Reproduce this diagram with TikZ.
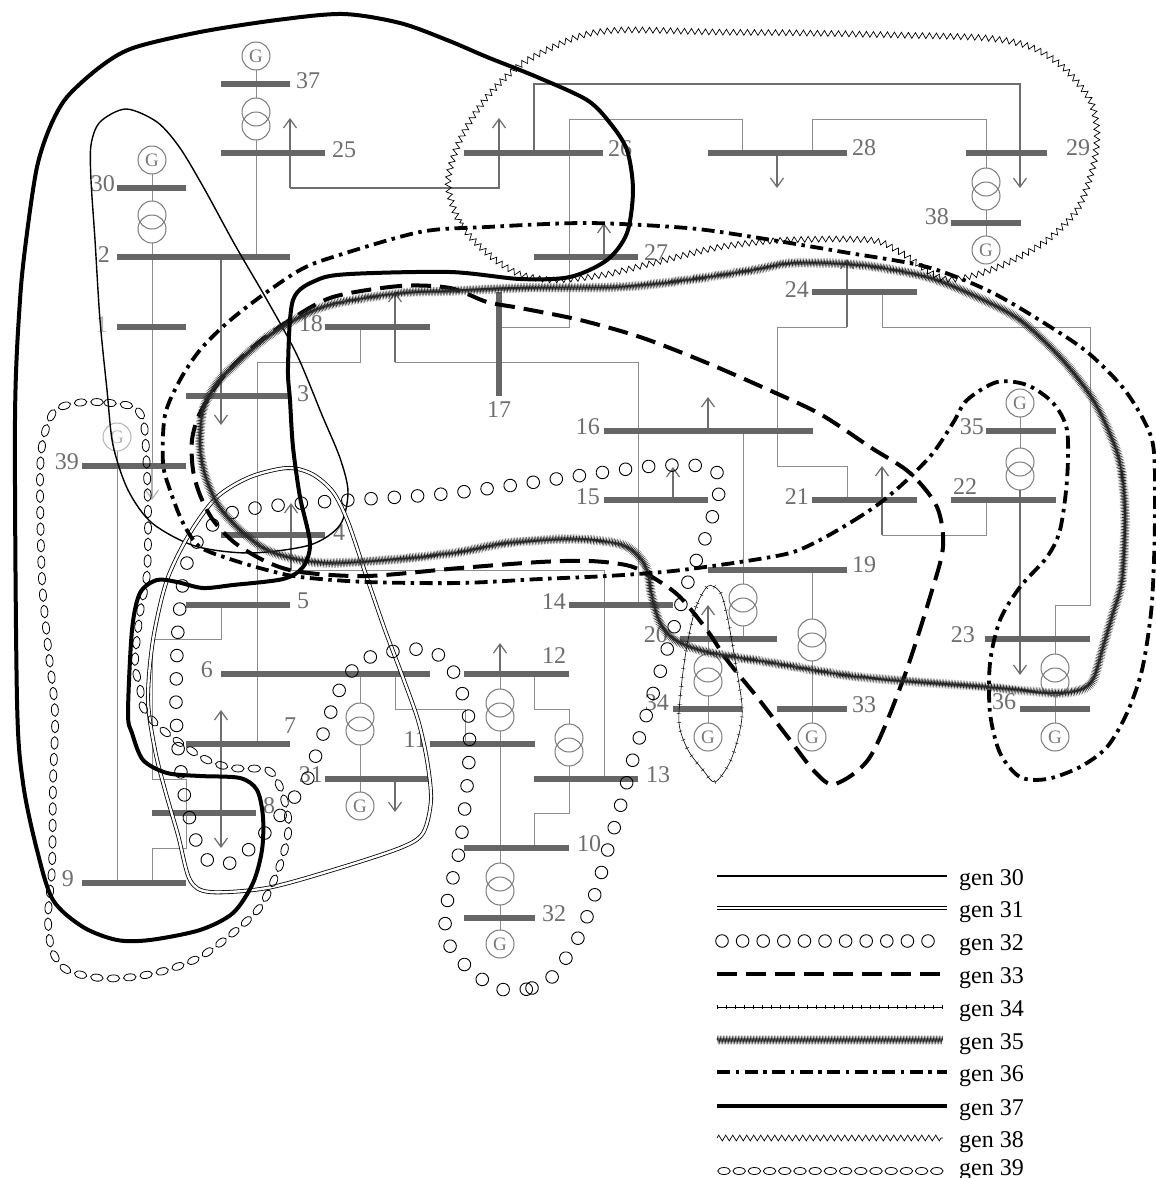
\documentclass[tikz,border=0pt]{standalone}
\usepackage{fontspec}
\setmainfont{Liberation Serif}
\usetikzlibrary{arrows.meta,decorations.markings,decorations.pathmorphing,decorations.pathreplacing}
\definecolor{busc}{HTML}{666666}
\definecolor{wirec}{HTML}{8C8C8C}
\definecolor{arrc}{HTML}{6E6E6E}
\definecolor{xfc}{HTML}{7A7A7A}
\definecolor{lblc}{HTML}{6E6E6E}
\definecolor{faint}{HTML}{B4B4B4}
\newcommand{\mkxf}[2]{\draw[xf] (#1,#2) circle[radius=14pt] (#1,#2+14) circle[radius=14pt];}
\tikzset{
 bus/.style={draw=busc, line width=6pt},
 wire/.style={draw=wirec, line width=1pt},
 load/.style={draw=arrc, line width=1.2pt, -{Straight Barb[length=9pt,width=13pt]}},
 dload/.style={draw=arrc, line width=1.2pt, {Straight Barb[length=9pt,width=13pt]}-{Straight Barb[length=9pt,width=13pt]}},
 xf/.style={draw=xfc, line width=1pt},
 gnode/.style={circle, draw=xfc, line width=1pt, minimum size=28pt, inner sep=0pt, text=xfc, font=\fontsize{19}{19}\selectfont},
 lbl/.style={inner sep=0pt, text=lblc, font=\fontsize{24}{24}\selectfont},
 leg/.style={inner sep=0pt, text=black, font=\fontsize{24}{24}\selectfont, anchor=base west},
 g30/.style={draw=black, line width=1.4pt},
 g31/.style={draw=black, double=white, double distance=2.4pt, line width=0.8pt},
 g32/.style={postaction={decorate}, decoration={markings, mark=between positions 0 and 1 step 23.3pt with {\draw[black,line width=0.9pt] (0,0) circle[radius=6.3pt];}}},
 g33/.style={draw=black, line width=4pt, dash pattern=on 20pt off 9pt},
 g34/.style={draw=black, line width=0.6pt, postaction={draw=black, line width=0.4pt, decorate, decoration={ticks, segment length=9pt, amplitude=2pt}}},
 g35/.style={draw=black!85, line width=0.6pt, decorate, decoration={zigzag, segment length=1.5pt, amplitude=2.7pt}},
 g36/.style={draw=black, line width=3.8pt, dash pattern=on 13pt off 5.5pt on 3.5pt off 5.5pt},
 g37/.style={draw=black, line width=4pt},
 g38/.style={draw=black, line width=0.7pt, decorate, decoration={zigzag, segment length=7pt, amplitude=2.9pt}},
 g39/.style={postaction={decorate}, decoration={markings, mark=between positions 0 and 1 step 16.5pt with {\draw[black,line width=0.8pt] (0,0) ellipse[x radius=6.3pt, y radius=3.5pt];}}}
}
\begin{document}
\begin{tikzpicture}[x=1pt,y=-1pt]
\useasboundingbox (0,0) rectangle (1156,1178);
\fill[white] (0,0) rectangle (1156,1178);

% ---------- wires ----------
\draw[wire] (256,70) -- (256,98);
\draw[wire] (256,140) -- (256,257);
\draw[load] (290,188) -- (290,118);
\draw[load] (290,188) -- (499,188) -- (499,118);
\draw[wire] (152,174) -- (152,201);
\draw[wire] (152,243) -- (152,466);
\draw[load, draw=faint] (152,466) -- (152,500);
\draw[load] (221,257) -- (221,425);
\draw[wire] (360,327) -- (360,362) -- (257,362) -- (257,744);
\draw[load] (395,362) -- (395,292);
\draw[wire] (395,362) -- (638,362) -- (638,605);
\draw[wire] (499,327) -- (569,327) -- (569,119) -- (742,119) -- (742,153);
\draw[load] (534,153) -- (534,84) -- (1020,84) -- (1020,188);
\draw[load] (604,257) -- (604,223);
\draw[wire] (812,153) -- (812,119) -- (986,119) -- (986,168);
\draw[wire] (986,210) -- (986,236);
\draw[load] (777,153) -- (777,188);
\draw[load] (847,327) -- (847,259);
\draw[wire] (847,327) -- (777,327) -- (777,466) -- (847,466) -- (847,500);
\draw[wire] (882,292) -- (882,327) -- (1090,327) -- (1090,605) -- (1055,605) -- (1055,654);
\draw[wire] (1055,696) -- (1055,723);
\draw[wire] (743,431) -- (743,584);
\draw[wire] (743,626) -- (743,639);
\draw[load] (708,431) -- (708,397);
\draw[load] (673,500) -- (673,467);
\draw[load] (882,535) -- (882,466);
\draw[wire] (882,535) -- (986,535) -- (986,500);
\draw[wire] (1020,417) -- (1020,448);
\draw[load] (1020,490) -- (1020,675);
\draw[wire] (812,570) -- (812,619);
\draw[wire] (812,661) -- (812,723);
\draw[load] (708,639) -- (708,605);
\draw[wire] (708,639) -- (708,654);
\draw[wire] (708,696) -- (708,723);
\draw[load] (291,570) -- (291,503);
\draw[wire] (291,570) -- (604,570) -- (604,779);
\draw[wire] (221,605) -- (221,639) -- (152,639) -- (152,779) -- (186,779) -- (186,848) -- (152,848) -- (152,883);
\draw[wire] (117,451) -- (117,883);
\draw[wire] (360,674) -- (360,703);
\draw[wire] (360,745) -- (360,792);
\draw[load] (395,779) -- (395,812);
\draw[wire] (395,674) -- (395,709) -- (465,709) -- (465,744);
\draw[load] (500,674) -- (500,643);
\draw[wire] (500,674) -- (500,689);
\draw[wire] (500,731) -- (500,863);
\draw[wire] (500,905) -- (500,930);
\draw[wire] (534,674) -- (534,709) -- (569,709) -- (569,724);
\draw[wire] (569,766) -- (569,813) -- (534,813) -- (534,848);
\draw[dload] (221,710) -- (221,848);

% ---------- transformers ----------
\mkxf{256}{112}
\mkxf{152}{215}
\mkxf{986}{182}
\mkxf{1020}{462}
\mkxf{1055}{668}
\mkxf{743}{598}
\mkxf{812}{633}
\mkxf{708}{668}
\mkxf{360}{717}
\mkxf{500}{703}
\mkxf{500}{877}
\mkxf{569}{738}

% ---------- generators ----------
\node[gnode] (G37) at (256,56) {G};
\node[gnode] (G30) at (152,160) {G};
\node[gnode, draw=faint, text=faint] (G39) at (117,437) {G};
\node[gnode] (G38) at (986,250) {G};
\node[gnode] (G35) at (1020,403) {G};
\node[gnode] (G36) at (1055,737) {G};
\node[gnode] (G33) at (812,737) {G};
\node[gnode] (G34) at (708,737) {G};
\node[gnode] (G31) at (360,806) {G};
\node[gnode] (G32) at (500,944) {G};

% ---------- buses ----------
\draw[bus] (221,84) -- (290,84);
\draw[bus] (221,153) -- (325,153);
\draw[bus] (117,188) -- (186,188);
\draw[bus] (117,257) -- (290,257);
\draw[bus] (117,327) -- (186,327);
\draw[bus] (325,327) -- (430,327);
\draw[bus] (186,396) -- (290,396);
\draw[bus] (82,466) -- (186,466);
\draw[bus] (221,535) -- (325,535);
\draw[bus] (186,605) -- (290,605);
\draw[bus] (221,674) -- (430,674);
\draw[bus] (186,744) -- (290,744);
\draw[bus] (152,813) -- (256,813);
\draw[bus] (82,883) -- (186,883);
\draw[bus] (325,779) -- (430,779);
\draw[bus] (430,744) -- (535,744);
\draw[bus] (464,674) -- (569,674);
\draw[bus] (534,779) -- (638,779);
\draw[bus] (464,848) -- (569,848);
\draw[bus] (464,918) -- (535,918);
\draw[bus] (464,153) -- (603,153);
\draw[bus] (534,257) -- (638,257);
\draw[bus] (708,153) -- (847,153);
\draw[bus] (966,153) -- (1047,153);
\draw[bus] (951,223) -- (1021,223);
\draw[bus] (812,292) -- (917,292);
\draw[bus] (499,292) -- (499,396);
\draw[bus] (604,431) -- (813,431);
\draw[bus] (604,500) -- (708,500);
\draw[bus] (569,605) -- (673,605);
\draw[bus] (812,500) -- (917,500);
\draw[bus] (951,500) -- (1056,500);
\draw[bus] (986,431) -- (1056,431);
\draw[bus] (708,570) -- (847,570);
\draw[bus] (680,639) -- (777,639);
\draw[bus] (777,709) -- (847,709);
\draw[bus] (673,709) -- (742,709);
\draw[bus] (985,639) -- (1090,639);
\draw[bus] (1020,709) -- (1090,709);

% ---------- labels ----------
\node[lbl, anchor=west] (L37) at (296,81) {37};
\node[lbl, anchor=west] (L25) at (332,150) {25};
\node[lbl, anchor=east] (L30) at (115,184) {30};
\node[lbl, anchor=east] (L2) at (110,255) {2};
\node[lbl, anchor=east, text=faint] (L1) at (108,325) {1};
\node[lbl, anchor=east] (L18) at (323,324) {18};
\node[lbl, anchor=west] (L3) at (297,394) {3};
\node[lbl, anchor=east] (L39) at (79,462) {39};
\node[lbl, anchor=west] (L4) at (333,533) {4};
\node[lbl, anchor=west] (L5) at (297,601) {5};
\node[lbl, anchor=east] (L6) at (213,670) {6};
\node[lbl] (L7) at (290,726) {7};
\node[lbl] (L8) at (269,806) {8};
\node[lbl, anchor=east] (L9) at (74,879) {9};
\node[lbl, anchor=east] (L31) at (323,775) {31};
\node[lbl, anchor=east] (L11) at (427,740) {11};
\node[lbl] (L12) at (554,656) {12};
\node[lbl, anchor=west] (L13) at (646,775) {13};
\node[lbl, anchor=west] (L10) at (577,844) {10};
\node[lbl, anchor=west] (L32) at (542,914) {32};
\node[lbl, anchor=west] (L26) at (608,149) {26};
\node[lbl, anchor=west] (L27) at (644,253) {27};
\node[lbl, anchor=west] (L28) at (852,148) {28};
\node[lbl, anchor=west] (L29) at (1066,148) {29};
\node[lbl, anchor=east] (L38) at (949,217) {38};
\node[lbl, anchor=east] (L24) at (809,290) {24};
\node[lbl] (L17) at (499,410) {17};
\node[lbl, anchor=east] (L16) at (600,427) {16};
\node[lbl, anchor=east] (L15) at (600,497) {15};
\node[lbl, anchor=east] (L14) at (566,602) {14};
\node[lbl, anchor=east] (L21) at (809,497) {21};
\node[lbl, anchor=east] (L20) at (668,635) {20};
\node[lbl, anchor=east] (L34) at (669,703) {34};
\node[lbl, anchor=west] (L19) at (852,565) {19};
\node[lbl, anchor=west] (L33) at (852,705) {33};
\node[lbl] (L22) at (965,487) {22};
\node[lbl, anchor=east] (L35) at (984,427) {35};
\node[lbl, anchor=east] (L23) at (975,635) {23};
\node[lbl] (L36) at (1004,702) {36};

% ---------- coherency regions ----------
\draw[g30] plot[smooth cycle] coordinates {(126,109) (157,122) (180,148) (205,190) (235,245) (267,300) (297,355) (322,415) (340,458) (348,492) (340,525) (310,545) (250,553) (195,546) (152,523) (128,490) (113,445) (107,390) (100,320) (95,240) (91,180) (91,145) (100,122)};

\draw[g31] plot[smooth cycle] coordinates {(287,468) (250,477) (217,497) (190,533) (167,580) (153,640) (148,700) (155,750) (165,790) (178,835) (190,880) (210,892) (267,888) (333,870) (400,848) (423,833) (431,800) (427,760) (418,720) (402,675) (385,630) (367,578) (348,522) (333,492) (312,474)};

\path[g32] plot[smooth cycle] coordinates {(505,990) (532,988) (552,977) (578,938) (595,894) (608,849) (621,804) (633,759) (647,713) (661,669) (675,624) (689,579) (706,536) (718,497) (720,476) (701,466) (654,466) (584,475) (514,485) (443,494) (350,500) (280,505) (234,512) (215,523) (199,539) (188,560) (183,582) (178,629) (176,700) (178,747) (184,793) (189,816) (195,838) (206,859) (227,864) (246,852) (263,835) (278,818) (293,799) (307,780) (322,737) (338,693) (350,673) (368,658) (390,652) (412,649) (435,653) (452,669) (468,713) (469,759) (465,806) (459,852) (448,898) (445,921) (449,944) (463,963) (480,978)};

\draw[g33] plot[smooth cycle] coordinates {(450,288) (400,286) (333,297) (290,320) (253,347) (222,378) (200,413) (192,440) (193,470) (200,495) (213,520) (235,543) (267,562) (300,572) (367,576) (460,568) (540,562) (590,561) (630,566) (657,580) (680,597) (707,630) (727,660) (757,697) (790,740) (815,772) (835,784) (870,757) (903,680) (930,597) (943,547) (937,507) (910,473) (870,447) (820,414) (760,386) (700,360) (640,337) (580,320) (520,308) (487,302)};

\draw[g34] plot[smooth cycle] coordinates {(708,586) (696,607) (688,640) (682,680) (679,723) (688,750) (703,770) (715,782) (730,762) (740,730) (742,705) (735,660) (727,615) (720,592)};

\draw[g35] plot[smooth cycle] coordinates {(450,291) (400,293) (333,304) (300,317) (267,337) (240,360) (217,383) (203,410) (200,445) (205,475) (218,505) (240,530) (267,550) (300,560) (333,563) (400,559) (460,552) (507,543) (573,539) (623,545) (645,565) (652,597) (660,623) (675,640) (707,652) (773,663) (860,677) (987,687) (1053,693) (1080,690) (1093,680) (1103,647) (1113,613) (1122,580) (1125,513) (1120,463) (1107,427) (1090,395) (1060,357) (1020,320) (977,297) (927,277) (860,265) (793,263) (753,270) (687,280) (620,287) (520,288)};

\draw[g36] plot[smooth cycle] coordinates {(820,540) (853,521) (880,503) (907,480) (933,453) (953,423) (967,400) (997,382) (1027,385) (1053,403) (1067,430) (1067,480) (1060,530) (1047,557) (1020,587) (1000,620) (990,663) (990,713) (1000,753) (1020,777) (1047,779) (1080,767) (1107,747) (1127,713) (1142,670) (1151,613) (1154,560) (1155,500) (1152,440) (1127,393) (1093,357) (1060,333) (993,293) (927,267) (843,252) (753,237) (687,228) (587,223) (487,227) (420,232) (333,257) (300,270) (260,297) (227,323) (200,350) (180,380) (165,415) (163,463) (170,490) (183,523) (200,547) (233,560) (267,570) (300,577) (367,582) (460,583) (540,579) (607,576) (673,571) (740,562) (790,553)};

\draw[g37] plot[smooth cycle] coordinates {(343,14) (400,23) (447,40) (487,57) (537,77) (587,100) (610,123) (627,150) (633,190) (627,233) (607,260) (570,277) (520,279) (450,272) (350,274) (317,280) (293,300) (288,367) (290,400) (293,447) (300,497) (310,543) (303,567) (283,579) (233,585) (203,588) (177,582) (157,580) (140,593) (132,630) (128,713) (132,733) (143,760) (167,773) (200,776) (240,778) (257,790) (263,817) (262,850) (253,883) (233,913) (200,930) (150,940) (117,940) (83,927) (53,900) (37,850) (23,783) (17,700) (15,420) (20,300) (27,233) (37,167) (50,127) (67,97) (100,67) (133,48) (200,32) (277,20)};

\draw[g38] plot[smooth cycle] coordinates {(448,183) (460,223) (487,253) (517,273) (553,280) (603,275) (653,263) (720,247) (787,240) (870,240) (900,252) (945,279) (993,269) (1043,243) (1077,210) (1093,167) (1097,133) (1090,100) (1063,67) (1031,47) (986,38) (895,35) (804,33) (713,32) (622,30) (577,37) (523,63) (487,97) (460,140)};

\path[g39] plot[smooth cycle] coordinates {(87,402) (110,403) (133,407) (143,420) (146,450) (148,513) (147,573) (140,613) (135,663) (140,687) (143,707) (157,725) (180,743) (207,760) (233,768) (267,770) (280,787) (288,817) (287,840) (277,873) (260,907) (233,933) (200,957) (167,970) (133,977) (100,978) (67,970) (52,950) (48,917) (52,867) (53,783) (55,713) (48,647) (42,580) (40,480) (43,440) (53,413) (67,405)};

% ---------- legend ----------
\draw[g30] (717,876) -- (947,876);
\node[leg] (T30) at (959,885) {gen 30};
\draw[g31] (717,908) -- (947,908);
\node[leg] (T31) at (959,917) {gen 31};
\foreach \k in {0,...,10} \draw[black,line width=0.9pt] (722+20.6*\k,941) circle[radius=6.3pt];
\node[leg] (T32) at (959,950) {gen 32};
\draw[g33] (717,974) -- (947,974);
\node[leg] (T33) at (959,983) {gen 33};
\draw[g34] (717,1007) -- (943,1007);
\node[leg] (T34) at (959,1016) {gen 34};
\draw[g35] (717,1040) -- (943,1040);
\node[leg] (T35) at (959,1049) {gen 35};
\draw[g36] (717,1072) -- (947,1072);
\node[leg] (T36) at (959,1081) {gen 36};
\draw[g37] (717,1106) -- (947,1106);
\node[leg] (T37) at (959,1115) {gen 37};
\draw[g38] (717,1138) -- (943,1138);
\node[leg] (T38) at (959,1147) {gen 38};
\foreach \k in {0,...,14} \draw[black,line width=0.8pt] (724+15.2*\k,1171) ellipse[x radius=6.3pt, y radius=3.5pt];
\node[leg] (T39) at (959,1175) {gen 39};
\end{tikzpicture}
\end{document}
